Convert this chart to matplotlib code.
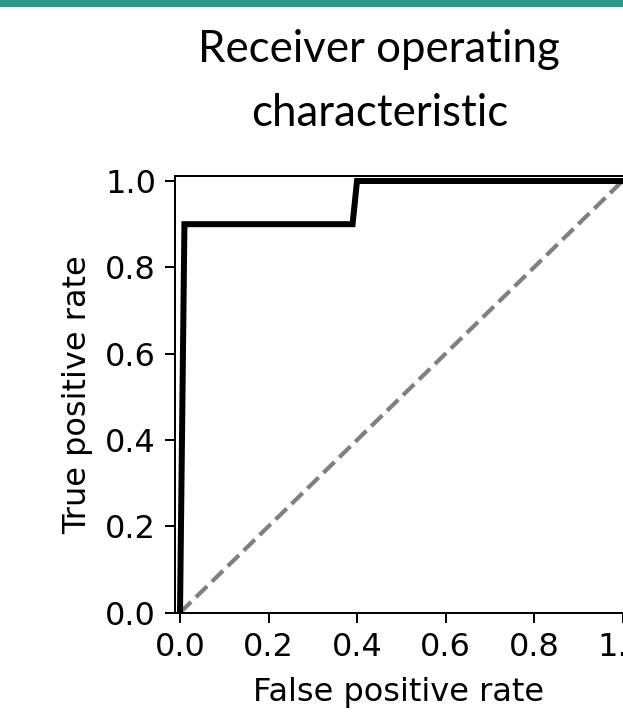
import matplotlib
matplotlib.use("Agg")
import matplotlib.pyplot as plt
from matplotlib.patches import Rectangle

# Data
fpr = [0.0, 0.01, 0.39, 0.40, 1.0]
tpr = [0.0, 0.90, 0.90, 1.00, 1.0]
chance_x = [0.0, 1.0]
chance_y = [0.0, 1.0]
xticks = [0.0, 0.2, 0.4, 0.6, 0.8, 1.0]
yticks = [0.0, 0.2, 0.4, 0.6, 0.8, 1.0]
title_lines = ["Receiver operating", "characteristic"]
xlabel = "False positive rate"
ylabel = "True positive rate"

W, H = 623, 712
DPI = 100
PX = 72.0 / DPI  # points per pixel

fig = plt.figure(figsize=(W / DPI, H / DPI), dpi=DPI)
fig.patch.set_facecolor("white")

# teal bar at top
fig.patches.append(Rectangle((0, 1 - 6.5 / H), 1, 6.5 / H, transform=fig.transFigure,
                             facecolor="#269a8b", edgecolor="none"))

left, right = 175 / W, 622.5 / W
bottom, top = (H - 612.7) / H, (H - 175.7) / H
ax = fig.add_axes([left, bottom, right - left, top - bottom])

ax.plot(chance_x, chance_y, color="grey", linestyle="--", linewidth=4.2 * PX, zorder=2)
ax.plot(fpr, tpr, color="black", linewidth=6 * PX, zorder=3, solid_joinstyle="miter")

ax.set_xlim(-0.0113, 1.0)
ax.set_ylim(0.0, 1.0123)
ax.set_xticks(xticks)
ax.set_yticks(yticks)
ax.set_xticklabels([f"{v:.1f}" for v in xticks])
ax.set_yticklabels([f"{v:.1f}" for v in yticks])

for s in ["left", "bottom", "top"]:
    ax.spines[s].set_linewidth(2 * PX)
ax.spines["right"].set_linewidth(1 * PX)
ax.spines["right"].set_color("#8a8a8a")

ax.tick_params(axis="both", length=10 * PX, width=2 * PX, labelsize=32 * PX, pad=9 * PX)

ax.set_xlabel(xlabel, fontsize=32 * PX, labelpad=14 * PX)
ax.set_ylabel(ylabel, fontsize=32 * PX, labelpad=12 * PX)

# Title lines (slide-style text, Calibri-like)
renderer = fig.canvas.get_renderer()
t1 = fig.text(379 / W, 1 - 62 / H, title_lines[0], fontsize=40, family="Lato",
              ha="center", va="baseline")
w = t1.get_window_extent(renderer).width
fs = 40 * 361.0 / w
t1.set_fontsize(fs)
fig.text(380 / W, 1 - 126 / H, title_lines[1], fontsize=fs, family="Lato",
         ha="center", va="baseline")

fig.savefig("out.png", dpi=DPI)
